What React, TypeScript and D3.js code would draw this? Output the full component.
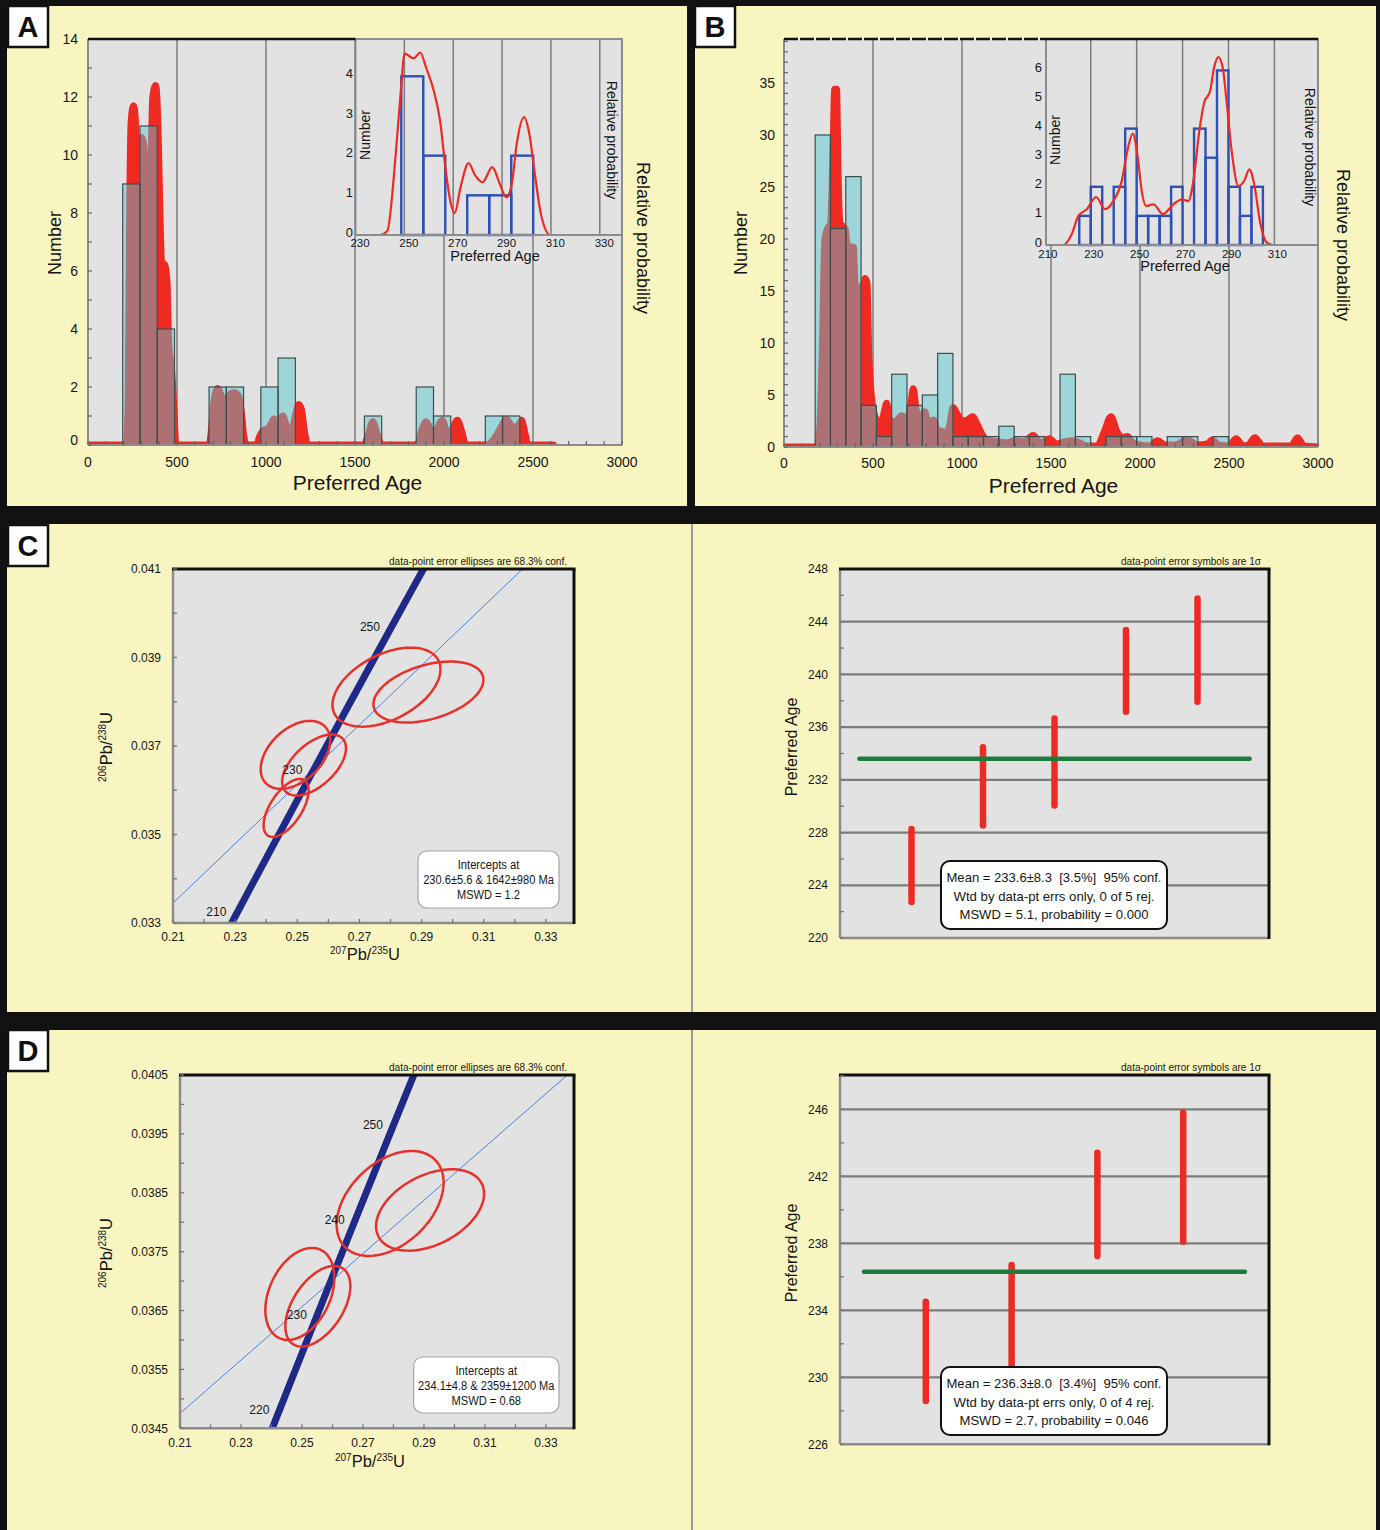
import { useEffect, useRef } from "react";
import * as d3 from "d3";

type Pt = [number, number];

const W = 1380;
const H = 1530;
const SANS = "'Liberation Sans', Arial, Helvetica, sans-serif";

const YELLOW = "#f9f5c1";
const PLOT_BG = "#e2e2e2";
const GRID = "#7c7c7c";
const AXIS = "#8c8c8c";
const RED = "#ee2a22";
const CYAN = "#9dd5d9";
const MAUVE = "#ad7073";
const BAR_EDGE = "#3c4f50";
const HIST_BLUE = "#2d50b6";
const NAVY = "#1f2a88";
const THIN_BLUE = "#4b80d8";
const GREEN = "#1e7b3b";

// ---------- A: all detrital ages ----------
const ageTicks = [0, 500, 1000, 1500, 2000, 2500, 3000];
const aNumberTicks = [0, 2, 4, 6, 8, 10, 12, 14];
const aBinStart = 195;
const aBinWidth = 97;
const aCounts = [9, 11, 4, 0, 0, 2, 2, 0, 2, 3, 0, 0, 0, 0, 1, 0, 0, 2, 1, 0, 0, 1, 1];
// probability curve, read in histogram units
const aProb: Pt[] = [
  [0, 0], [215, 0], [226, 1.5], [234, 8], [243, 11.2], [256, 11.7], [266, 11.2], [272, 9.8],
  [285, 9.8], [300, 10.6], [314, 10.3], [325, 8.2], [339, 7.3], [352, 9], [364, 12], [380, 12.4],
  [393, 11], [404, 8], [414, 6.3], [432, 6.2], [444, 5.6], [454, 3.4], [468, 2.7], [482, 1.3], [494, 0],
  [680, 0], [695, 0.6], [710, 1.6], [730, 1.95], [748, 1.7], [767, 1.5], [790, 1.7], [820, 1.8],
  [845, 1.7], [862, 1.1], [875, 0.3], [890, 0],
  [945, 0], [965, 0.3], [985, 0.5], [1010, 0.55], [1030, 0.75], [1045, 0.9], [1060, 0.7], [1075, 0.8],
  [1095, 1.0], [1112, 0.7], [1130, 0.5], [1150, 0.6], [1168, 1.1], [1185, 1.4], [1200, 1.2], [1215, 0.5], [1235, 0],
  [1550, 0], [1575, 0.35], [1600, 0.8], [1625, 0.35], [1650, 0],
  [1850, 0], [1875, 0.5], [1900, 0.8], [1928, 0.5], [1952, 0.5], [1990, 0.85], [2018, 0.45], [2042, 0.5],
  [2075, 0.85], [2100, 0.45], [2122, 0],
  [2240, 0], [2280, 0.2], [2320, 0.6], [2350, 0.9], [2380, 0.65], [2410, 0.6], [2435, 0.85], [2455, 0.4], [2472, 0],
  [2615, 0],
];
const aInsetTicks = [230, 250, 270, 290, 310, 330];
const aInsetNumberTicks = [0, 1, 2, 3, 4];
const aInsetBinStart = 248.75;
const aInsetBinWidth = 9;
const aInsetCounts = [4, 2, 0, 1, 1, 2];
const aInsetProb: Pt[] = [
  [230, 0], [240, 0], [243, 0.1], [246.5, 2.06], [248.8, 3.82], [250, 4.58], [253.8, 4.45], [256.5, 4.6],
  [259, 4.2], [262, 3.65], [264.6, 2.89], [267, 1.6], [269, 0.8], [270.6, 0.55], [273, 1.2], [276.3, 1.81],
  [279, 1.5], [282, 1.33], [286, 1.71], [289, 1.3], [291.7, 0.95], [294, 1.3], [296, 2.3], [299, 2.97],
  [301, 2.6], [303.5, 1.5], [306, 0.5], [309.8, 0], [320, 0],
];

// ---------- B ----------
const bNumberTicks = [0, 5, 10, 15, 20, 25, 30, 35];
const bBinStart = 175;
const bBinWidth = 86;
const bCounts = [30, 21, 26, 4, 1, 7, 4, 5, 9, 1, 1, 1, 2, 1, 1, 0, 7, 1, 0, 1, 1, 1, 0, 1, 1, 0, 1];
const bProb: Pt[] = [
  [0, 0], [185, 0], [200, 1.5], [215, 9], [230, 20], [245, 21], [262, 21.5], [276, 29], [285, 34.4],
  [295, 34.4], [304, 26], [315, 21.5], [343, 21], [356, 19.3], [390, 19.2], [400, 15.4], [427, 15.4],
  [442, 14.5], [455, 16.2], [466, 15.8], [476, 9], [490, 5], [510, 3], [530, 2.4], [550, 2.5], [565, 3.5],
  [577, 4.2], [592, 2.6], [625, 2.4], [660, 3], [690, 2.6], [712, 4], [726, 5.6], [742, 3.6], [765, 2.6],
  [790, 3.4], [810, 2.2], [840, 2.6], [862, 1.6], [890, 1.5], [912, 1.2], [932, 2.2], [950, 3.8], [975, 3.1],
  [1000, 2.5], [1030, 2.6], [1060, 2.9], [1090, 2], [1120, 1], [1150, 0.6], [1200, 0.5], [1250, 0.4],
  [1300, 0.6], [1350, 0.5], [1400, 1.1], [1440, 0.4], [1490, 0.8], [1530, 0.3], [1580, 0.5], [1620, 0.6],
  [1660, 0.4], [1700, 0.1], [1760, 0.1], [1800, 1.5], [1837, 2.9], [1870, 1.5], [1900, 0.9], [1930, 1.0],
  [1960, 0.4], [2000, 0.2], [2050, 0.1], [2100, 0.6], [2140, 0.2], [2200, 0.2], [2265, 0.7], [2320, 0.2],
  [2380, 0.3], [2405, 0.7], [2440, 0.2], [2500, 0.1], [2540, 0.8], [2580, 0.1], [2610, 0.2], [2645, 0.9],
  [2690, 0.1], [2850, 0.1], [2885, 0.9], [2920, 0.1], [3000, 0],
];
const bInsetTicks = [210, 230, 250, 270, 290, 310];
const bInsetNumberTicks = [0, 1, 2, 3, 4, 5, 6];
const bInsetBinStart = 225;
const bInsetBinWidth = 5;
const bInsetCounts = [1, 2, 0, 2, 4, 1, 1, 1, 2, 0, 4, 3, 6, 2, 1, 2];
const bInsetProb: Pt[] = [
  [210.8, 0], [218, 0], [221.7, 0.37], [224.6, 1.0], [228.3, 1.23], [232.3, 1.65], [236.2, 1.23],
  [239.8, 1.51], [243.5, 2.2], [245.9, 3.23], [248.3, 3.83], [250.3, 3.12], [252.2, 1.86], [254.1, 1.34],
  [257.3, 1.4], [261.4, 1.06], [266, 1.4], [269.7, 1.57], [272.5, 1.51], [274.7, 2.2], [277.3, 3.92],
  [279.4, 4.89], [282, 5.29], [283.7, 6.09], [285.6, 6.46], [287.5, 6.09], [289.3, 4.83], [291.4, 3.23],
  [294.3, 2.03], [296.8, 2.2], [299.1, 2.6], [301.2, 2.09], [303.8, 0.77], [306.7, 0.08], [309.6, 0],
];

// ---------- concordia diagrams (C, D) ----------
// [age Ma, 207Pb/235U, 206Pb/238U]
const concordia: [number, number, number][] = [
  [200, 0.21771, 0.031511], [210, 0.229743, 0.033113], [220, 0.241917, 0.034717],
  [230, 0.254211, 0.036323], [240, 0.266624, 0.037932], [250, 0.279168, 0.039543],
  [260, 0.291834, 0.041157],
];
const ratioXTicks = [0.21, 0.23, 0.25, 0.27, 0.29, 0.31, 0.33];
const cYTicks = [0.033, 0.035, 0.037, 0.039, 0.041];
const cConcordiaLabels = [210, 230, 250];
const cEllipses = [
  { x: 0.2787, y: 0.03833, ex: 0.01738, ey: 0.000893, rho: 0.45 },
  { x: 0.2922, y: 0.03822, ex: 0.0177, ey: 0.000689, rho: 0.4 },
  { x: 0.2494, y: 0.0368, ex: 0.01118, ey: 0.000768, rho: 0.42 },
  { x: 0.2554, y: 0.03657, ex: 0.01027, ey: 0.000689, rho: 0.55 },
  { x: 0.2464, y: 0.0356, ex: 0.00724, ey: 0.000655, rho: 0.6 },
];
const cDiscordia: Pt[] = [[0.21, 0.03345], [0.3225, 0.041]];
const cIntercepts = ["Intercepts at", "230.6±5.6 & 1642±980 Ma", "MSWD = 1.2"];

const dYTicks = [0.0345, 0.0355, 0.0365, 0.0375, 0.0385, 0.0395, 0.0405];
const dConcordiaLabels = [220, 230, 240, 250];
const dEllipses = [
  { x: 0.2789, y: 0.038318, ex: 0.01754, ey: 0.000891, rho: 0.4 },
  { x: 0.292, y: 0.038208, ex: 0.01771, ey: 0.000691, rho: 0.4 },
  { x: 0.2493, y: 0.036782, ex: 0.01132, ey: 0.000781, rho: 0.35 },
  { x: 0.2552, y: 0.036573, ex: 0.01066, ey: 0.000685, rho: 0.5 },
];
const dDiscordia: Pt[] = [[0.21, 0.034753], [0.337, 0.0405]];
const dIntercepts = ["Intercepts at", "234.1±4.8 & 2359±1200 Ma", "MSWD = 0.68"];

// ---------- weighted means ----------
const cAgeTicks = [220, 224, 228, 232, 236, 240, 244, 248];
const cAges = [225.5, 231.5, 233.35, 240.27, 241.85];
const cAgeErrs = [2.77, 2.97, 3.3, 3.1, 3.92];
const cMean = 233.6;
const cMeanSpan = [0.27, 5.73];
const cMeanText = ["Mean = 233.6±8.3  [3.5%]  95% conf.", "Wtd by data-pt errs only, 0 of 5 rej.", "MSWD = 5.1, probability = 0.000"];

const dAgeTicks = [226, 230, 234, 238, 242, 246];
const dAges = [231.55, 233.4, 240.33, 241.95];
const dAgeErrs = [2.96, 3.3, 3.08, 3.85];
const dMean = 236.3;
const dMeanSpan = [0.28, 4.72];
const dMeanText = ["Mean = 236.3±8.0  [3.4%]  95% conf.", "Wtd by data-pt errs only, 0 of 4 rej.", "MSWD = 2.7, probability = 0.046"];

function txt(g: any, x: number, y: number, s: string, size: number, anchor = "middle", rotate = 0) {
  return g
    .append("text")
    .attr("transform", `translate(${x},${y})${rotate ? ` rotate(${rotate})` : ""}`)
    .attr("text-anchor", anchor)
    .attr("dy", "0.35em")
    .attr("font-family", SANS)
    .attr("font-size", size)
    .attr("fill", "#151515")
    .text(s);
}

function drawFrame(svg: any) {
  svg.append("rect").attr("width", W).attr("height", H).attr("fill", "#121212");
  const panels = [[7, 6, 680, 500], [695, 6, 681, 500], [7, 524, 1369, 488], [7, 1030, 1369, 500]];
  panels.forEach(([x, y, w, h]) =>
    svg.append("rect").attr("x", x).attr("y", y).attr("width", w).attr("height", h).attr("fill", YELLOW)
  );
  [[524, 1012], [1030, 1530]].forEach(([a, b]) =>
    svg.append("line").attr("x1", 692).attr("x2", 692).attr("y1", a).attr("y2", b)
      .attr("stroke", "#9a9a9a").attr("stroke-width", 2)
  );
  const letters: [string, number, number][] = [["A", 8, 6], ["B", 695, 6], ["C", 8, 525], ["D", 8, 1030]];
  letters.forEach(([s, x, y]) => {
    svg.append("rect").attr("x", x).attr("y", y).attr("width", 40).attr("height", 41)
      .attr("fill", "#fff").attr("stroke", "#111").attr("stroke-width", 2.5);
    svg.append("text").attr("x", x + 20).attr("y", y + 31).attr("text-anchor", "middle")
      .attr("font-family", SANS).attr("font-weight", "bold").attr("font-size", 29).attr("fill", "#111").text(s);
  });
}

function drawHistogram(svg: any, defs: any, p: any) {
  const x = d3.scaleLinear().domain([0, 3000]).range([p.x0, p.x1]);
  const y = d3.scaleLinear().domain([0, p.yMax]).range([p.y1, p.y0]);
  const g = svg.append("g");
  g.append("rect").attr("x", p.x0).attr("y", p.y0).attr("width", p.x1 - p.x0).attr("height", p.y1 - p.y0).attr("fill", PLOT_BG);
  g.append("g").selectAll("line").data(ageTicks.slice(1, -1)).join("line")
    .attr("x1", (d: number) => x(d)).attr("x2", (d: number) => x(d)).attr("y1", p.y0).attr("y2", p.y1)
    .attr("stroke", GRID).attr("stroke-width", 1.5);

  defs.append("clipPath").attr("id", `${p.id}-plot`).append("rect")
    .attr("x", p.x0).attr("y", p.y0).attr("width", p.x1 - p.x0).attr("height", p.y1 - p.y0);
  const bins = p.counts
    .map((n: number, i: number) => ({ a: p.binStart + i * p.binWidth, b: p.binStart + (i + 1) * p.binWidth, n }))
    .filter((d: any) => d.n > 0);
  const barRect = (s: any) =>
    s.attr("x", (d: any) => x(d.a)).attr("y", (d: any) => y(d.n))
      .attr("width", (d: any) => x(d.b) - x(d.a)).attr("height", (d: any) => y(0) - y(d.n));
  const area = d3.area<Pt>().x((d) => x(d[0])).y0(y(0)).y1((d) => y(d[1])).curve(d3.curveMonotoneX);
  const probPath = area(p.prob) as string;

  // probability curve in red, bars over it; where they overlap the curve shows through as mauve
  const body = g.append("g").attr("clip-path", `url(#${p.id}-plot)`);
  body.append("path").attr("d", probPath).attr("fill", RED).attr("stroke", RED)
    .attr("stroke-width", 7).attr("stroke-linejoin", "round");
  body.append("g").selectAll("rect").data(bins).join("rect").call(barRect).attr("fill", CYAN);
  defs.append("clipPath").attr("id", `${p.id}-bars`).selectAll("rect").data(bins).join("rect").call(barRect);
  body.append("g").attr("clip-path", `url(#${p.id}-bars)`).append("path").attr("d", probPath)
    .attr("fill", MAUVE).attr("stroke", MAUVE).attr("stroke-width", 7).attr("stroke-linejoin", "round");
  body.append("g").selectAll("rect").data(bins).join("rect").call(barRect)
    .attr("fill", "none").attr("stroke", BAR_EDGE).attr("stroke-width", 1.2);

  // frame
  const line = (x1: number, y1: number, x2: number, y2: number, c: string, w: number) =>
    g.append("line").attr("x1", x1).attr("y1", y1).attr("x2", x2).attr("y2", y2).attr("stroke", c).attr("stroke-width", w);
  line(p.x0, p.y0, p.x0, p.y1, AXIS, 2);
  line(p.x1, p.y0, p.x1, p.y1, AXIS, 2);
  line(p.x0, p.y1, p.x1, p.y1, AXIS, 2);
  g.append("g").selectAll("line").data(d3.range(0, 3001, 100)).join("line")
    .attr("x1", (d: number) => x(d)).attr("x2", (d: number) => x(d)).attr("y1", p.y1).attr("y2", p.y1 - 4)
    .attr("stroke", "#666").attr("stroke-width", 1.2);
  g.append("g").selectAll("line").data(d3.range(0, p.yMax, p.yMinor)).join("line")
    .attr("x1", p.x0).attr("x2", p.x0 + 4).attr("y1", (d: number) => y(d)).attr("y2", (d: number) => y(d))
    .attr("stroke", "#666").attr("stroke-width", 1.2);

  g.append("g").selectAll("text").data(ageTicks).join("text")
    .attr("x", (d: number) => x(d)).attr("y", p.tickY).attr("dy", "0.35em").attr("text-anchor", "middle")
    .attr("font-family", SANS).attr("font-size", 14).attr("fill", "#151515").text((d: number) => d);
  g.append("g").selectAll("text").data(p.yTicks).join("text")
    .attr("x", p.yTickRight).attr("y", (d: number) => y(d) - (d === 0 ? p.zeroLift : 0)).attr("dy", "0.35em")
    .attr("text-anchor", "end").attr("font-family", SANS).attr("font-size", 14).attr("fill", "#151515")
    .text((d: number) => d);
  txt(g, p.numberX, p.labelY, "Number", 18, "middle", -90);
  txt(g, p.relX, p.relY, "Relative probability", 18, "middle", 90);
  txt(g, (p.x0 + p.x1) / 2 + 2.5, p.titleY, "Preferred Age", 21);

  drawInset(g, p.inset);

  const top = line(p.x0, p.y0, p.topBlackTo, p.y0, "#111", 2.6);
  if (p.dashedTop) {
    top.attr("stroke-dasharray", "14 2");
    line(p.inset.x0, p.y0, p.x1, p.y0, "#111", 2.6);
  }
}

function drawInset(g: any, q: any) {
  const x = d3.scaleLinear().domain([q.xMin, q.xMax]).range([q.x0, q.x1]);
  const y = d3.scaleLinear().domain([0, q.yMax]).range([q.y1, q.y0]);
  const ig = g.append("g");
  ig.append("rect").attr("x", q.x0).attr("y", q.y0).attr("width", q.x1 - q.x0).attr("height", q.y1 - q.y0).attr("fill", PLOT_BG);
  ig.append("g").selectAll("line").data(q.ticks.filter((t: number) => t > q.xMin + 2)).join("line")
    .attr("x1", (d: number) => x(d)).attr("x2", (d: number) => x(d)).attr("y1", q.y0).attr("y2", q.y1)
    .attr("stroke", GRID).attr("stroke-width", 1.5);
  const bins = q.counts
    .map((n: number, i: number) => ({ a: q.binStart + i * q.binWidth, b: q.binStart + (i + 1) * q.binWidth, n }))
    .filter((d: any) => d.n > 0);
  ig.append("g").selectAll("rect").data(bins).join("rect")
    .attr("x", (d: any) => x(d.a)).attr("y", (d: any) => y(d.n))
    .attr("width", (d: any) => x(d.b) - x(d.a)).attr("height", (d: any) => y(0) - y(d.n))
    .attr("fill", "none").attr("stroke", HIST_BLUE).attr("stroke-width", 2.4);
  const ln = d3.line<Pt>().x((d) => x(d[0])).y((d) => y(d[1])).curve(d3.curveMonotoneX);
  ig.append("path").attr("d", ln(q.prob)).attr("fill", "none").attr("stroke", RED).attr("stroke-width", 2.2);
  ig.append("rect").attr("x", q.x0).attr("y", q.y0).attr("width", q.x1 - q.x0).attr("height", q.y1 - q.y0)
    .attr("fill", "none").attr("stroke", AXIS).attr("stroke-width", 2);

  ig.append("g").selectAll("text").data(q.ticks).join("text")
    .attr("x", (d: number) => x(d) + q.tickShift).attr("y", q.tickY).attr("dy", "0.35em").attr("text-anchor", "middle")
    .attr("font-family", SANS).attr("font-size", 11.5).attr("fill", "#151515").text((d: number) => d);
  ig.append("g").selectAll("text").data(q.numberTicks).join("text")
    .attr("x", q.yTickRight).attr("y", (d: number) => y(d) - 3).attr("dy", "0.35em").attr("text-anchor", "end")
    .attr("font-family", SANS).attr("font-size", 13).attr("fill", "#151515").text((d: number) => d);
  txt(ig, q.numberX, q.numberY, "Number", 14, "middle", -90);
  txt(ig, q.relX, q.relY, "Relative probability", 14, "middle", 90);
  txt(ig, q.titleX, q.titleY, "Preferred Age", 14.5);
}

function ellipsePoints(e: any): Pt[] {
  const s = Math.sqrt(1 - e.rho * e.rho);
  return d3.range(97).map((i) => {
    const t = (i / 96) * 2 * Math.PI;
    return [e.x + e.ex * Math.cos(t), e.y + e.ey * (e.rho * Math.cos(t) + s * Math.sin(t))] as Pt;
  });
}

function isotopeLabel(g: any, x: number, y: number, rotate: number, supA: string, a: string, supB: string, b: string) {
  const t = g.append("text").attr("transform", `translate(${x},${y})${rotate ? ` rotate(${rotate})` : ""}`)
    .attr("text-anchor", "middle").attr("font-family", SANS).attr("fill", "#151515");
  t.append("tspan").attr("font-size", 10).attr("dy", -6.5).text(supA);
  t.append("tspan").attr("font-size", 16.5).attr("dy", 6.5).text(a);
  t.append("tspan").attr("font-size", 10).attr("dy", -6.5).text(supB);
  t.append("tspan").attr("font-size", 16.5).attr("dy", 6.5).text(b);
}

function drawConcordia(svg: any, defs: any, p: any) {
  const x = d3.scaleLinear().domain(p.xDomain).range([p.x0, p.x1]);
  const y = d3.scaleLinear().domain(p.yDomain).range([p.y1, p.y0]);
  const g = svg.append("g");
  g.append("rect").attr("x", p.x0).attr("y", p.y0).attr("width", p.x1 - p.x0).attr("height", p.y1 - p.y0).attr("fill", PLOT_BG);
  defs.append("clipPath").attr("id", `${p.id}-clip`).append("rect")
    .attr("x", p.x0).attr("y", p.y0).attr("width", p.x1 - p.x0).attr("height", p.y1 - p.y0);
  const body = g.append("g").attr("clip-path", `url(#${p.id}-clip)`);
  const ln = d3.line<Pt>().x((d) => x(d[0])).y((d) => y(d[1]));
  body.append("path").attr("d", ln(p.discordia)).attr("stroke", THIN_BLUE).attr("stroke-width", 1).attr("fill", "none");
  const conc: Pt[] = concordia.map((c) => [c[1], c[2]]);
  body.append("path").attr("d", ln.curve(d3.curveCatmullRom)(conc)).attr("stroke", NAVY)
    .attr("stroke-width", 7).attr("fill", "none");
  const eLine = d3.line<Pt>().x((d) => x(d[0])).y((d) => y(d[1]));
  body.append("g").selectAll("path").data(p.ellipses).join("path")
    .attr("d", (e: any) => eLine(ellipsePoints(e)))
    .attr("fill", "none").attr("stroke", "#e8302a").attr("stroke-width", 2.5);
  g.append("g").selectAll("text").data(concordia.filter((c) => p.ageLabels.includes(c[0]))).join("text")
    .attr("x", (c: any) => x(c[1]) - 8).attr("y", (c: any) => y(c[2]) - 2).attr("text-anchor", "end")
    .attr("font-family", SANS).attr("font-size", 12).attr("fill", "#151515").text((c: any) => c[0]);

  // axes
  const line = (x1: number, y1: number, x2: number, y2: number, c: string, w: number) =>
    g.append("line").attr("x1", x1).attr("y1", y1).attr("x2", x2).attr("y2", y2).attr("stroke", c).attr("stroke-width", w);
  line(p.x0, p.y0, p.x0, p.y1, AXIS, 2.5);
  line(p.x0, p.y1, p.x1, p.y1, AXIS, 2.5);
  line(p.x0 - 1, p.y0, p.x1 + 1.5, p.y0, "#111", 3);
  line(p.x1, p.y0, p.x1, p.y1 + 1, "#111", 3);
  g.append("g").selectAll("line").data(d3.range(0.21, 0.335, 0.01)).join("line")
    .attr("x1", (d: number) => x(d)).attr("x2", (d: number) => x(d)).attr("y1", p.y1).attr("y2", p.y1 - 4)
    .attr("stroke", "#777").attr("stroke-width", 1.3);
  g.append("g").selectAll("line").data(d3.range(p.yDomain[0], p.yDomain[1] + 1e-6, p.yMinor)).join("line")
    .attr("x1", p.x0).attr("x2", p.x0 + 4).attr("y1", (d: number) => y(d)).attr("y2", (d: number) => y(d))
    .attr("stroke", "#777").attr("stroke-width", 1.3);
  g.append("g").selectAll("text").data(ratioXTicks).join("text")
    .attr("x", (d: number) => x(d)).attr("y", p.xTickY).attr("dy", "0.35em").attr("text-anchor", "middle")
    .attr("font-family", SANS).attr("font-size", 12).attr("fill", "#151515").text(d3.format(".2f"));
  g.append("g").selectAll("text").data(p.yTicks).join("text")
    .attr("x", p.yTickRight).attr("y", (d: number) => y(d)).attr("dy", "0.35em").attr("text-anchor", "end")
    .attr("font-family", SANS).attr("font-size", 12).attr("fill", "#151515").text(d3.format(p.yFmt));
  g.append("text").attr("x", p.x1 - 7).attr("y", p.y0 - 4).attr("text-anchor", "end")
    .attr("font-family", SANS).attr("font-size", 10).attr("fill", "#151515")
    .attr("textLength", 178).attr("lengthAdjust", "spacingAndGlyphs")
    .text("data-point error ellipses are 68.3% conf.");
  isotopeLabel(g, p.yTitleX, p.yTitleY, -90, "206", "Pb/", "238", "U");
  isotopeLabel(g, p.xTitleX, p.xTitleY, 0, "207", "Pb/", "235", "U");

  const [bx0, by0, bx1, by1] = p.box;
  g.append("rect").attr("x", bx0).attr("y", by0).attr("width", bx1 - bx0).attr("height", by1 - by0)
    .attr("rx", 9).attr("fill", "#fff").attr("stroke", "#a5a5a5").attr("stroke-width", 1.2);
  p.boxText.forEach((s: string, i: number) => {
    g.append("text").attr("x", (bx0 + bx1) / 2).attr("y", by0 + 18 + i * 15).attr("text-anchor", "middle")
      .attr("font-family", SANS).attr("font-size", 12).attr("fill", "#151515")
      .attr("textLength", p.boxWidths[i]).attr("lengthAdjust", "spacingAndGlyphs").text(s);
  });
}

function drawMean(svg: any, p: any) {
  const x = d3.scaleLinear().domain([0, p.ages.length + 1]).range([p.x0, p.x1]);
  const y = d3.scaleLinear().domain(p.yDomain).range([p.y1, p.y0]);
  const g = svg.append("g");
  g.append("rect").attr("x", p.x0).attr("y", p.y0).attr("width", p.x1 - p.x0).attr("height", p.y1 - p.y0).attr("fill", PLOT_BG);
  g.append("g").selectAll("line").data(p.ticks.filter((t: number) => t > p.yDomain[0] && t < p.yDomain[1] - 0.5)).join("line")
    .attr("x1", p.x0).attr("x2", p.x1).attr("y1", (d: number) => y(d)).attr("y2", (d: number) => y(d))
    .attr("stroke", GRID).attr("stroke-width", 2.2);
  g.append("g").selectAll("line").data(p.ages.map((a: number, i: number) => ({ a, e: p.errs[i], i: i + 1 }))).join("line")
    .attr("x1", (d: any) => x(d.i)).attr("x2", (d: any) => x(d.i))
    .attr("y1", (d: any) => y(d.a - d.e)).attr("y2", (d: any) => y(d.a + d.e))
    .attr("stroke", "#ec2b25").attr("stroke-width", 6.5).attr("stroke-linecap", "round");
  g.append("line").attr("x1", x(p.meanSpan[0])).attr("x2", x(p.meanSpan[1]))
    .attr("y1", y(p.mean)).attr("y2", y(p.mean)).attr("stroke", GREEN).attr("stroke-width", 4.5).attr("stroke-linecap", "round");

  const line = (x1: number, y1: number, x2: number, y2: number, c: string, w: number) =>
    g.append("line").attr("x1", x1).attr("y1", y1).attr("x2", x2).attr("y2", y2).attr("stroke", c).attr("stroke-width", w);
  line(p.x0, p.y0, p.x0, p.y1, AXIS, 2.5);
  line(p.x0, p.y1, p.x1, p.y1, AXIS, 2.5);
  line(p.x0 - 1, p.y0, p.x1 + 1.5, p.y0, "#111", 3);
  line(p.x1, p.y0, p.x1, p.y1 + 1, "#111", 3);
  g.append("g").selectAll("line").data(d3.range(p.yDomain[0], p.yDomain[1], 2)).join("line")
    .attr("x1", p.x0).attr("x2", p.x0 + 4).attr("y1", (d: number) => y(d)).attr("y2", (d: number) => y(d))
    .attr("stroke", "#777").attr("stroke-width", 1.3);
  g.append("g").selectAll("text").data(p.ticks).join("text")
    .attr("x", 828).attr("y", (d: number) => y(d)).attr("dy", "0.35em").attr("text-anchor", "end")
    .attr("font-family", SANS).attr("font-size", 12).attr("fill", "#151515").text((d: number) => d);
  txt(g, 791, p.labelY, "Preferred Age", 16, "middle", -90);
  g.append("text").attr("x", p.x1 - 8).attr("y", p.y0 - 4).attr("text-anchor", "end")
    .attr("font-family", SANS).attr("font-size", 10).attr("fill", "#151515")
    .attr("textLength", 140).attr("lengthAdjust", "spacingAndGlyphs")
    .text("data-point error symbols are 1σ");

  const [bx0, by0, bx1, by1] = p.box;
  g.append("rect").attr("x", bx0).attr("y", by0).attr("width", bx1 - bx0).attr("height", by1 - by0)
    .attr("rx", 9).attr("fill", "#fff").attr("stroke", "#111").attr("stroke-width", 2);
  const widths = [215, 201, 189];
  p.boxText.forEach((s: string, i: number) => {
    g.append("text").attr("x", (bx0 + bx1) / 2).attr("y", by0 + 21 + i * 18.5).attr("text-anchor", "middle")
      .attr("font-family", SANS).attr("font-size", 13.5).attr("fill", "#151515").style("white-space", "pre")
      .attr("textLength", widths[i]).attr("lengthAdjust", "spacingAndGlyphs").text(s);
  });
}

export default function App() {
  const ref = useRef<SVGSVGElement>(null);

  useEffect(() => {
    const svg = d3.select(ref.current);
    svg.selectAll("*").remove();
    const defs = svg.append("defs");
    drawFrame(svg);

    drawHistogram(svg, defs, {
      id: "a", x0: 88, x1: 622, y0: 39, y1: 445, yMax: 14, yMinor: 1, yTicks: aNumberTicks, zeroLift: 5,
      binStart: aBinStart, binWidth: aBinWidth, counts: aCounts, prob: aProb,
      tickY: 462, yTickRight: 78, numberX: 55, labelY: 243, relX: 643, relY: 238, titleY: 483,
      topBlackTo: 355.5, dashedTop: false,
      inset: {
        x0: 355.5, x1: 622, y0: 39, y1: 235, xMin: 230, xMax: 339.1, yMax: 4.94,
        ticks: aInsetTicks, numberTicks: aInsetNumberTicks, tickShift: 4.5,
        binStart: aInsetBinStart, binWidth: aInsetBinWidth, counts: aInsetCounts, prob: aInsetProb,
        tickY: 243, yTickRight: 353, numberX: 365, numberY: 135, relX: 612, relY: 140, titleX: 495, titleY: 256,
      },
    });
    drawHistogram(svg, defs, {
      id: "b", x0: 784, x1: 1318, y0: 39, y1: 447, yMax: 39.23, yMinor: 1, yTicks: bNumberTicks, zeroLift: 0,
      binStart: bBinStart, binWidth: bBinWidth, counts: bCounts, prob: bProb,
      tickY: 463, yTickRight: 775, numberX: 741, labelY: 243, relX: 1343, relY: 245, titleY: 486,
      topBlackTo: 1046, dashedTop: true,
      inset: {
        x0: 1046, x1: 1318, y0: 39, y1: 245, xMin: 210.5, xMax: 329.0, yMax: 7.08,
        ticks: bInsetTicks, numberTicks: bInsetNumberTicks, tickShift: 3,
        binStart: bInsetBinStart, binWidth: bInsetBinWidth, counts: bInsetCounts, prob: bInsetProb,
        tickY: 254, yTickRight: 1042, numberX: 1055, numberY: 140, relX: 1310, relY: 147, titleX: 1185, titleY: 266,
      },
    });

    drawConcordia(svg, defs, {
      id: "c", x0: 173, x1: 574, y0: 569, y1: 923, xDomain: [0.21, 0.33906], yDomain: [0.033, 0.041],
      yTicks: cYTicks, yMinor: 0.001, yFmt: ".3f", ellipses: cEllipses, discordia: cDiscordia,
      ageLabels: cConcordiaLabels, xTickY: 937, yTickRight: 161,
      yTitleX: 112, yTitleY: 747, xTitleX: 365, xTitleY: 960,
      box: [418, 851, 559, 908], boxText: cIntercepts, boxWidths: [61.6, 130.7, 63],
    });
    drawConcordia(svg, defs, {
      id: "d", x0: 180, x1: 574, y0: 1075, y1: 1428.3, xDomain: [0.21, 0.3392], yDomain: [0.0345, 0.0405],
      yTicks: dYTicks, yMinor: 0.0005, yFmt: ".4f", ellipses: dEllipses, discordia: dDiscordia,
      ageLabels: dConcordiaLabels, xTickY: 1443, yTickRight: 168,
      yTitleX: 112, yTitleY: 1253, xTitleX: 370, xTitleY: 1467,
      box: [413.6, 1357, 559, 1413], boxText: dIntercepts, boxWidths: [61.6, 136.4, 69.5],
    });

    drawMean(svg, {
      x0: 840, x1: 1269, y0: 569, y1: 938, yDomain: [220, 248], ticks: cAgeTicks,
      ages: cAges, errs: cAgeErrs, mean: cMean, meanSpan: cMeanSpan, labelY: 747,
      box: [941, 861, 1167, 929], boxText: cMeanText,
    });
    drawMean(svg, {
      x0: 840, x1: 1269, y0: 1075, y1: 1444.3, yDomain: [226, 248.05], ticks: dAgeTicks,
      ages: dAges, errs: dAgeErrs, mean: dMean, meanSpan: dMeanSpan, labelY: 1253,
      box: [941, 1367, 1167, 1435], boxText: dMeanText,
    });
  }, []);

  return (
    <svg
      ref={ref}
      width={W}
      height={H}
      style={{ position: "absolute", left: 0, top: 0, display: "block" }}
    />
  );
}
